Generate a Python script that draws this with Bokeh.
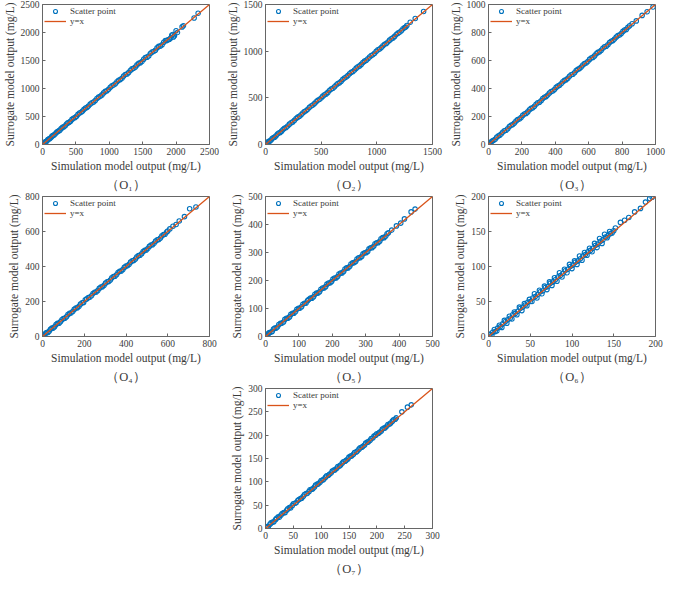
from bokeh.plotting import figure
from bokeh.layouts import gridplot
from bokeh.models import Range1d, FixedTicker, Title, Legend, LegendItem
from bokeh.embed import file_html
from bokeh.resources import INLINE

# ---- data ----
labels = ["（O₁）", "（O₂）", "（O₃）", "（O₄）", "（O₅）", "（O₆）", "（O₇）"]
axis_max = [2500, 1500, 1000, 800, 500, 200, 300]
tick_step = [500, 500, 200, 200, 100, 50, 50]

sim_o1 = [5, 22, 45, 70, 95, 125, 155, 190, 225, 260, 300, 340, 380, 420, 465, 510, 555, 600, 645, 690,
          740, 790, 840, 890, 940, 990, 1040, 1090, 1140, 1190, 1240, 1290, 1340, 1390, 1440, 1490, 1540,
          1590, 1640, 1690, 1740, 1790, 1840, 1880, 1920, 1950, 1975, 2000, 2020, 2090, 2110, 2270, 2330]
sur_o1 = [8, 20, 48, 66, 99, 121, 160, 186, 230, 256, 305, 336, 386, 416, 470, 505, 562, 596, 652, 686,
          746, 785, 846, 886, 948, 985, 1047, 1085, 1148, 1184, 1248, 1284, 1350, 1384, 1450, 1482, 1552,
          1580, 1652, 1682, 1752, 1780, 1856, 1870, 1900, 1965, 1940, 2030, 2000, 2100, 2120, 2260, 2345]
sim_o1b = [12, 33, 58, 82, 110, 140, 172, 208, 242, 280, 320, 360, 400, 442, 488, 532, 578, 622, 668, 715,
           765, 815, 865, 915, 965, 1015, 1065, 1115, 1165, 1215, 1265, 1315, 1365, 1415, 1465, 1515, 1565,
           1615, 1665, 1715, 1765, 1815, 1860, 1900, 1935, 1960]
sur_o1b = [10, 38, 55, 88, 106, 145, 168, 213, 238, 285, 316, 366, 396, 448, 483, 538, 574, 628, 663, 721,
           760, 821, 860, 921, 960, 1021, 1060, 1121, 1160, 1221, 1260, 1321, 1360, 1421, 1460, 1523, 1560,
           1625, 1660, 1725, 1760, 1825, 1855, 1880, 1950, 1920]

sim_o2 = [3, 15, 30, 50, 70, 95, 120, 145, 170, 200, 230, 260, 290, 320, 350, 380, 410, 440, 470, 500,
          530, 560, 590, 620, 650, 680, 710, 740, 770, 800, 830, 860, 890, 920, 950, 980, 1010, 1040, 1070,
          1100, 1130, 1160, 1190, 1220, 1250, 1270, 1300, 1345, 1420]
sur_o2 = [5, 14, 33, 48, 73, 93, 123, 143, 173, 198, 233, 258, 293, 318, 353, 378, 413, 438, 473, 498,
          533, 558, 593, 618, 653, 678, 713, 738, 773, 798, 833, 858, 893, 918, 953, 978, 1015, 1038, 1073,
          1098, 1133, 1158, 1193, 1218, 1253, 1275, 1310, 1350, 1425]
sim_o2b = [9, 22, 40, 60, 82, 108, 132, 158, 185, 215, 245, 275, 305, 335, 365, 395, 425, 455, 485, 515,
           545, 575, 605, 635, 665, 695, 725, 755, 785, 815, 845, 875, 905, 935, 965, 995, 1025, 1055, 1085,
           1115, 1145, 1175, 1205, 1235, 1260]
sur_o2b = [7, 25, 37, 63, 79, 111, 129, 161, 182, 218, 242, 278, 302, 338, 362, 398, 422, 458, 482, 518,
           542, 578, 602, 638, 662, 698, 722, 758, 782, 818, 842, 878, 902, 938, 962, 998, 1022, 1058, 1082,
           1118, 1142, 1178, 1202, 1240, 1258]

sim_o3 = [2, 12, 25, 40, 58, 76, 95, 115, 135, 155, 175, 195, 215, 235, 255, 275, 295, 315, 335, 355,
          375, 395, 415, 435, 455, 475, 495, 515, 535, 555, 575, 595, 615, 635, 655, 675, 695, 715, 735,
          755, 775, 795, 815, 835, 860, 885, 920, 950, 985]
sur_o3 = [4, 11, 27, 38, 61, 74, 98, 113, 138, 153, 178, 193, 218, 233, 258, 273, 298, 313, 338, 353,
          378, 393, 418, 433, 458, 473, 498, 513, 538, 553, 578, 593, 618, 633, 658, 673, 698, 713, 738,
          753, 778, 793, 818, 838, 862, 883, 922, 948, 982]
sim_o3b = [7, 18, 32, 49, 67, 85, 105, 125, 145, 165, 185, 205, 225, 245, 265, 285, 305, 325, 345, 365,
           385, 405, 425, 445, 465, 485, 505, 525, 545, 565, 585, 605, 625, 645, 665, 685, 705, 725, 745,
           765, 785, 805, 825, 845]
sur_o3b = [5, 21, 30, 52, 65, 88, 102, 128, 142, 168, 182, 208, 222, 248, 262, 288, 302, 328, 342, 368,
           382, 408, 422, 448, 462, 488, 502, 528, 542, 568, 582, 608, 622, 648, 662, 688, 702, 728, 742,
           768, 782, 808, 822, 848]

sim_o4 = [2, 10, 20, 32, 45, 58, 72, 86, 100, 115, 130, 145, 160, 175, 190, 205, 220, 235, 250, 265,
          280, 295, 310, 325, 340, 355, 370, 385, 400, 415, 430, 445, 460, 475, 490, 505, 520, 535, 550,
          565, 580, 595, 610, 625, 640, 655, 680, 705, 735]
sur_o4 = [4, 9, 23, 30, 48, 56, 75, 84, 103, 113, 133, 143, 163, 173, 193, 210, 223, 233, 253, 263,
          283, 293, 313, 323, 343, 353, 373, 383, 403, 413, 433, 443, 463, 473, 493, 503, 523, 533, 553,
          563, 583, 597, 615, 630, 640, 660, 685, 730, 740]
sim_o4b = [6, 15, 26, 38, 51, 65, 79, 93, 107, 122, 137, 152, 167, 182, 197, 212, 227, 242, 257, 272,
           287, 302, 317, 332, 347, 362, 377, 392, 407, 422, 437, 452, 467, 482, 497, 512, 527, 542, 557,
           572, 587, 600]
sur_o4b = [4, 18, 23, 41, 48, 68, 76, 96, 104, 125, 134, 155, 164, 185, 194, 215, 224, 245, 254, 275,
           284, 305, 314, 335, 344, 365, 374, 395, 404, 425, 434, 455, 464, 485, 494, 515, 524, 545, 554,
           575, 584, 603]

sim_o5 = [1, 6, 12, 20, 28, 36, 45, 54, 63, 72, 81, 90, 99, 108, 117, 126, 135, 144, 153, 162, 171,
          180, 189, 198, 207, 216, 225, 234, 243, 252, 261, 270, 279, 288, 297, 306, 315, 324, 333, 342,
          351, 360, 368, 378, 392, 405, 416, 436, 448]
sur_o5 = [3, 5, 14, 18, 30, 34, 47, 52, 65, 70, 83, 88, 101, 106, 119, 128, 137, 142, 155, 160, 173,
          178, 191, 196, 209, 214, 227, 232, 245, 250, 263, 268, 281, 286, 299, 304, 317, 322, 335, 340,
          353, 358, 370, 380, 395, 405, 420, 445, 455]
sim_o5b = [3, 9, 16, 24, 32, 40, 49, 58, 67, 76, 85, 94, 103, 112, 121, 130, 139, 148, 157, 166, 175,
           184, 193, 202, 211, 220, 229, 238, 247, 256, 265, 274, 283, 292, 301, 310, 319, 328, 337, 346,
           355, 364]
sur_o5b = [2, 11, 15, 27, 30, 43, 47, 61, 65, 79, 83, 97, 101, 115, 119, 133, 137, 151, 155, 169, 173,
           187, 191, 205, 209, 223, 227, 241, 245, 259, 263, 277, 281, 295, 299, 313, 317, 331, 335, 349,
           353, 367]

sim_o6 = [1, 4, 7, 10, 13, 16, 19, 22, 25, 28, 31, 34, 37, 40, 43, 46, 49, 52, 55, 58, 61, 64, 67, 70,
          73, 76, 79, 82, 85, 88, 91, 94, 97, 100, 103, 106, 109, 112, 115, 118, 121, 124, 127, 130, 133,
          136, 139, 142, 145, 148, 152, 158, 163, 168, 175, 182, 188, 193, 196]
sur_o6 = [3, 2, 10, 8, 16, 13, 23, 19, 29, 25, 35, 31, 42, 37, 47, 44, 53, 50, 61, 55, 66, 61, 72, 67,
          78, 73, 84, 79, 91, 85, 96, 91, 103, 97, 108, 103, 115, 109, 120, 116, 126, 121, 133, 127, 140,
          133, 146, 141, 150, 148, 155, 163, 166, 170, 178, 183, 192, 197, 199]
sim_o6b = [2, 5, 8, 11, 14, 17, 20, 23, 26, 29, 32, 35, 38, 41, 44, 47, 50, 53, 56, 59, 62, 65, 68, 71,
           74, 77, 80, 83, 86, 89, 92, 95, 98, 101, 104, 107, 110, 113, 116, 119, 122, 125, 128, 131, 134,
           137, 140, 143, 146, 150]
sur_o6b = [3, 6, 7, 12, 14, 18, 21, 24, 26, 31, 33, 36, 40, 42, 45, 49, 50, 55, 57, 60, 64, 65, 70, 71,
           76, 78, 81, 85, 87, 90, 94, 96, 100, 102, 106, 108, 111, 115, 117, 121, 123, 126, 130, 132, 136,
           138, 142, 144, 147, 151]

sim_o7 = [1, 5, 10, 15, 20, 25, 30, 35, 40, 45, 50, 55, 60, 65, 70, 75, 80, 85, 90, 95, 100, 105, 110,
          115, 120, 125, 130, 135, 140, 145, 150, 155, 160, 165, 170, 175, 180, 185, 190, 195, 200, 205,
          210, 215, 220, 225, 230, 235, 245, 255, 262]
sur_o7 = [3, 4, 12, 14, 22, 24, 32, 34, 42, 44, 53, 55, 62, 65, 73, 75, 83, 85, 93, 96, 103, 106, 113,
          116, 123, 126, 133, 136, 143, 146, 153, 156, 163, 166, 173, 176, 183, 186, 193, 198, 203, 206,
          213, 216, 223, 226, 233, 237, 250, 260, 265]
sim_o7b = [3, 8, 13, 18, 23, 28, 33, 38, 43, 48, 53, 58, 63, 68, 73, 78, 83, 88, 93, 98, 103, 108, 113,
           118, 123, 128, 133, 138, 143, 148, 153, 158, 163, 168, 173, 178, 183, 188, 193, 198, 203, 208,
           213, 218, 223, 228, 233]
sur_o7b = [4, 9, 14, 19, 25, 29, 34, 39, 45, 49, 54, 60, 64, 69, 75, 79, 84, 89, 95, 99, 104, 110, 114,
           119, 125, 129, 134, 140, 144, 149, 155, 159, 164, 170, 174, 179, 185, 189, 194, 200, 204, 209,
           215, 219, 224, 230, 234]

sims = [sim_o1 + sim_o1b, sim_o2 + sim_o2b, sim_o3 + sim_o3b, sim_o4 + sim_o4b,
        sim_o5 + sim_o5b, sim_o6 + sim_o6b, sim_o7 + sim_o7b]
surs = [sur_o1 + sur_o1b, sur_o2 + sur_o2b, sur_o3 + sur_o3b, sur_o4 + sur_o4b,
        sur_o5 + sur_o5b, sur_o6 + sur_o6b, sur_o7 + sur_o7b]

SERIF = "Liberation Serif"
TXT = "#3a3a3a"
BLUE = "#0072BD"
ORANGE = "#D95319"


def make_panel(i):
    m = axis_max[i]
    p = figure(width=223, height=192, output_backend="svg", toolbar_location=None,
               x_range=Range1d(0, m), y_range=Range1d(0, m),
               min_border_left=0, min_border_right=14, min_border_top=4, min_border_bottom=0)
    p.xgrid.visible = False
    p.ygrid.visible = False
    p.outline_line_color = "#666666"
    p.outline_line_width = 1
    p.background_fill_color = "white"
    p.border_fill_color = "white"

    ticks = list(range(0, m + 1, tick_step[i]))
    for ax in (p.xaxis[0], p.yaxis[0]):
        ax.ticker = FixedTicker(ticks=ticks)
        ax.major_tick_in = 3
        ax.major_tick_out = 0
        ax.minor_tick_line_color = None
        ax.axis_line_color = "#666666"
        ax.major_tick_line_color = "#666666"
        ax.major_label_text_font = SERIF
        ax.major_label_text_font_size = "9.5px"
        ax.major_label_text_color = TXT
        ax.axis_label_text_font = SERIF
        ax.axis_label_text_font_size = "11.5px"
        ax.axis_label_text_font_style = "normal"
        ax.axis_label_text_color = TXT
        ax.major_label_standoff = 3
        ax.axis_label_standoff = 2
    p.xaxis.axis_label = "Simulation model output (mg/L)"
    p.yaxis.axis_label = "Surrogate model output (mg/L)"

    r_sc = p.scatter(sims[i], surs[i], marker="circle", size=4.5, fill_color=None,
                     line_color=BLUE, line_width=1.1)
    r_ln = p.line([0, m], [0, m], line_color=ORANGE, line_width=1.3)

    leg = Legend(items=[LegendItem(label="Scatter point", renderers=[r_sc]),
                        LegendItem(label="y=x", renderers=[r_ln])],
                 location="top_left", border_line_color=None, background_fill_alpha=0.0,
                 label_text_font=SERIF, label_text_font_size="9px", label_text_color=TXT,
                 glyph_width=22, glyph_height=10, label_height=10, spacing=0, padding=2,
                 margin=2, label_standoff=4)
    p.add_layout(leg)

    cap = Title(text=labels[i], align="center", text_font=SERIF, text_font_size="12.5px",
                text_font_style="normal", text_color=TXT, standoff=2)
    p.add_layout(cap, "below")
    return p


panels = [make_panel(i) for i in range(7)]
grid = gridplot([[panels[0], panels[1], panels[2]],
                 [panels[3], panels[4], panels[5]],
                 [None, panels[6], None]], toolbar_location=None)

open("out.html", "w").write(file_html(grid, INLINE))
